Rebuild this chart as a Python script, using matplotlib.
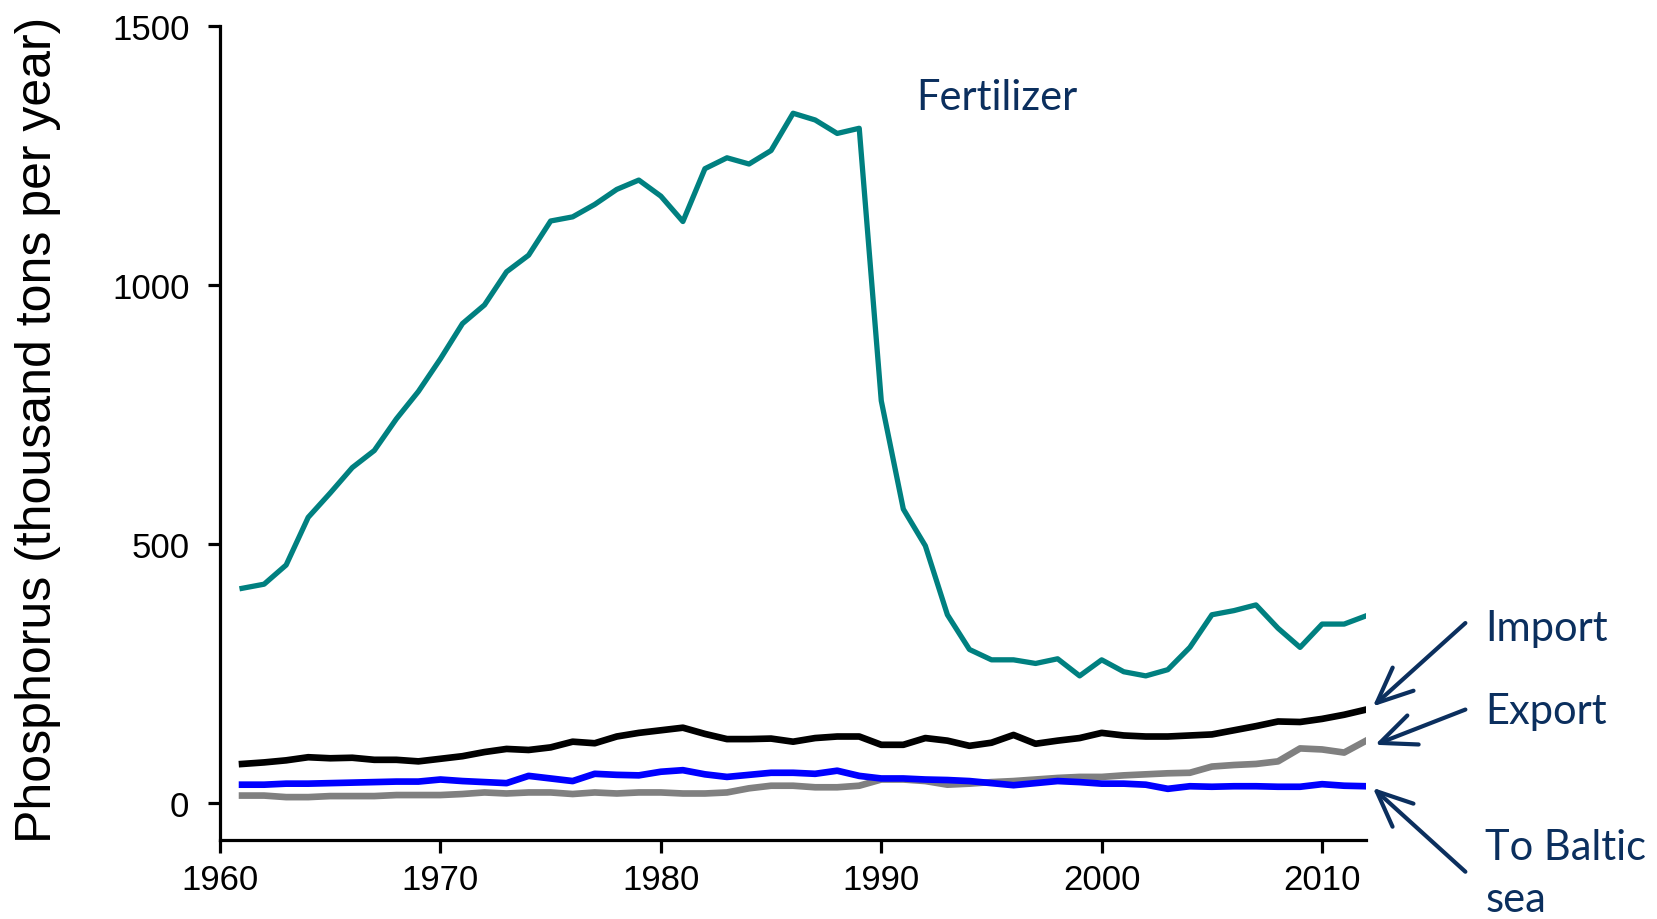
import numpy as np
import matplotlib
matplotlib.use('Agg')
import matplotlib.pyplot as plt

years = np.arange(1961, 2013)

fertilizer = [414, 422, 459, 551, 598, 647, 680, 741, 794, 857,
              925, 961, 1025, 1057, 1123, 1131, 1155, 1184, 1202, 1171,
              1122, 1224, 1245, 1233, 1259, 1331, 1318, 1292, 1302, 776,
              567, 496, 363, 296, 276, 276, 269, 278, 245, 276,
              253, 245, 257, 300, 363, 371, 382, 337, 300, 345,
              345, 361]

importP = [75, 78, 82, 88, 86, 87, 83, 83, 80, 85,
           90, 98, 104, 102, 107, 118, 115, 128, 135, 140,
           145, 133, 123, 123, 124, 118, 125, 128, 128, 112,
           112, 125, 120, 110, 116, 131, 114, 120, 125, 135,
           130, 128, 128, 130, 132, 140, 148, 157, 156, 162,
           170, 180]

exportP = [14, 14, 11, 11, 13, 13, 13, 15, 15, 15,
           17, 20, 18, 20, 20, 17, 20, 18, 20, 20,
           18, 18, 20, 28, 33, 33, 30, 30, 33, 45,
           45, 42, 35, 37, 40, 42, 45, 48, 50, 50,
           53, 55, 57, 58, 70, 73, 75, 80, 105, 103,
           97, 120]

baltic = [35, 35, 37, 37, 38, 39, 40, 41, 41, 45,
          42, 40, 38, 52, 47, 42, 56, 54, 53, 60,
          63, 55, 50, 54, 58, 58, 56, 62, 52, 47,
          47, 45, 44, 42, 38, 34, 38, 42, 40, 37,
          37, 35, 27, 32, 31, 32, 32, 31, 31, 36,
          33, 32]

navy = '#0b2f5e'
lab_font = ['Lato', 'DejaVu Sans']

plt.rcParams['font.family'] = ['Liberation Sans', 'DejaVu Sans']

fig = plt.figure(figsize=(16.58, 9.2), dpi=100)
ax = fig.add_axes([0.1327, 0.0863, 0.824 - 0.1327, 0.971 - 0.0863])

ax.plot(years, fertilizer, color='#008080', lw=3.8, solid_joinstyle='round')
ax.plot(years, exportP, color='#808080', lw=4.8)
ax.plot(years, baltic, color='#0000ff', lw=4.8)
ax.plot(years, importP, color='black', lw=4.8)

ax.set_xlim(1960, 2012)
ax.set_ylim(-71, 1500)
ax.set_xticks([1960, 1970, 1980, 1990, 2000, 2010])
ax.set_yticks([0, 500, 1000, 1500])

for s in ['top', 'right']:
    ax.spines[s].set_visible(False)
for s in ['left', 'bottom']:
    ax.spines[s].set_linewidth(2.3)

ax.tick_params(axis='both', direction='out', length=9, width=2.3, labelsize=25)
ax.tick_params(axis='y', pad=13)
ax.tick_params(axis='x', pad=8)

fig.text(0.023, 0.533, 'Phosphorus (thousand tons per year)', rotation=90,
         ha='center', va='center', fontsize=36)

ax.text(1991.6, 1363, 'Fertilizer', color=navy, fontsize=30, family=lab_font,
        ha='left', va='center')

ax.text(2017.4, 337, 'Import', color=navy, fontsize=30, family=lab_font,
        ha='left', va='center', clip_on=False)
ax.text(2017.4, 178, 'Export', color=navy, fontsize=30, family=lab_font,
        ha='left', va='center', clip_on=False)
ax.text(2017.4, -136, 'To Baltic\nsea', color=navy, fontsize=30, family=lab_font,
        ha='left', va='center', linespacing=1.45, clip_on=False)

arrows = [((2016.5, 347), (2012.3, 186)),
          ((2016.5, 180), (2012.4, 112)),
          ((2016.5, -133), (2012.3, 29))]
for tail, head in arrows:
    ax.annotate('', xy=head, xytext=tail, annotation_clip=False,
                arrowprops=dict(arrowstyle='->, head_length=0.8, head_width=0.35',
                                mutation_scale=32, color=navy, lw=3.0,
                                shrinkA=0, shrinkB=0))

fig.savefig('out.png', dpi=100)
